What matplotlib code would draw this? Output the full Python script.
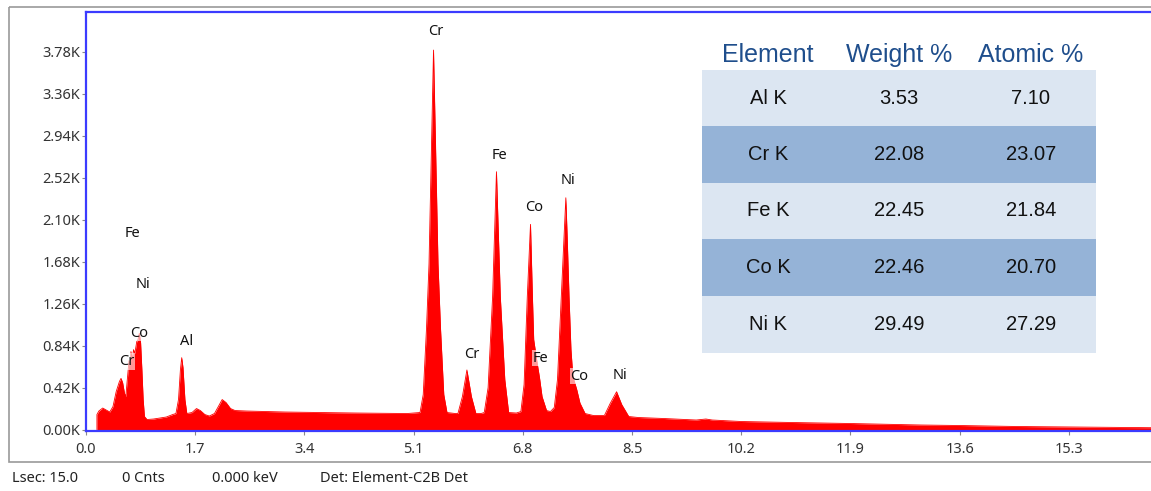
import matplotlib
matplotlib.use("Agg")
import matplotlib.pyplot as plt
from matplotlib.patches import Rectangle

# spectrum outline (keV, counts)
energy_kev = [0.17, 0.17, 0.20, 0.26, 0.30, 0.37, 0.42, 0.47, 0.52, 0.545, 0.57, 0.60, 0.62,
              0.64, 0.67, 0.69, 0.70, 0.72, 0.74, 0.76, 0.79, 0.81, 0.83, 0.85, 0.87, 0.89,
              0.91, 0.95, 1.05, 1.15, 1.25, 1.35, 1.40, 1.44, 1.47, 1.49, 1.51, 1.54, 1.57,
              1.65, 1.72, 1.78, 1.85, 1.92, 2.00, 2.06, 2.12, 2.18, 2.25, 2.32, 2.50, 2.80,
              3.10, 3.40, 3.80, 4.20, 4.60, 5.00, 5.20, 5.25, 5.30, 5.34, 5.38, 5.41, 5.44,
              5.48, 5.52, 5.57, 5.62, 5.75, 5.79, 5.86, 5.93, 6.00, 6.07, 6.15, 6.20, 6.26,
              6.33, 6.36, 6.39, 6.42, 6.45, 6.52, 6.58, 6.70, 6.77, 6.82, 6.87, 6.92, 6.95,
              6.97, 7.02, 7.06, 7.10, 7.17, 7.23, 7.29, 7.34, 7.40, 7.44, 7.47, 7.49, 7.52,
              7.55, 7.58, 7.64, 7.69, 7.77, 7.90, 8.07, 8.16, 8.26, 8.34, 8.45, 8.60, 9.00,
              9.50, 9.65, 9.75, 10.2, 11.0, 11.9, 13.0, 13.6, 14.5, 15.3, 16.0, 16.6, 16.6]
counts = [0, 150, 185, 215, 200, 175, 230, 380, 480, 512, 470, 360, 330,
          480, 690, 640, 780, 700, 800, 760, 880, 900, 963, 870, 600, 300,
          130, 100, 105, 115, 125, 150, 160, 300, 600, 719, 620, 300, 160,
          170, 210, 190, 150, 135, 160, 230, 300, 270, 210, 190, 185, 180,
          175, 172, 168, 165, 162, 160, 170, 350, 1000, 1658, 2900, 3799, 2900,
          1658, 1000, 350, 170, 160, 160, 330, 596, 330, 160, 160, 170, 420,
          1330, 1950, 2581, 1950, 1330, 500, 170, 165, 180, 450, 1330, 2054, 1330,
          900, 680, 520, 330, 190, 180, 220, 500, 1330, 1900, 2320, 1950, 1330,
          800, 530, 400, 265, 160, 140, 140, 260, 378, 250, 130, 120, 110,
          95, 105, 95, 80, 70, 60, 45, 40, 30, 25, 20, 18, 0]

x_ticks = [0.0, 1.7, 3.4, 5.1, 6.8, 8.5, 10.2, 11.9, 13.6, 15.3]
y_ticks = [0, 420, 840, 1260, 1680, 2100, 2520, 2940, 3360, 3780]

# peak labels (text, keV, counts)
peak_labels = [("Cr", 5.44, 3980), ("Fe", 6.43, 2744), ("Co", 6.97, 2221), ("Ni", 7.51, 2492),
               ("Cr", 6.01, 754), ("Fe", 7.08, 714), ("Co", 7.68, 533), ("Ni", 8.31, 543),
               ("Al", 1.57, 884), ("Co", 0.83, 965), ("Cr", 0.63, 683), ("Fe", 0.73, 1960),
               ("Ni", 0.89, 1447)]

elements = ["Al K", "Cr K", "Fe K", "Co K", "Ni K"]
weight_pct = ["3.53", "22.08", "22.45", "22.46", "29.49"]
atomic_pct = ["7.10", "23.07", "21.84", "20.70", "27.29"]

status_text = [("Lsec: 15.0", 12), ("0 Cnts", 122), ("0.000 keV", 212), ("Det: Element-C2B Det", 320)]

W, H = 1151, 491
fig = plt.figure(figsize=(W / 100, H / 100), dpi=100)
font = "Noto Sans"
blue = "#3b3bff"

ax = fig.add_axes([86 / W, (H - 431) / H, (W - 86) / W, (431 - 12) / H])
ax.fill_between(energy_kev, counts, color="#ff0000", lw=0)
ax.plot(energy_kev, counts, color="#ff0000", lw=0.6)
ax.set_xlim(0, 16.58)
ax.set_ylim(-15, 4180)
ax.set_xticks(x_ticks)
ax.set_xticklabels([f"{v:.1f}" for v in x_ticks], fontfamily=font, fontsize=10.5, color="#333333")
ax.set_yticks(y_ticks)
ax.set_yticklabels([f"{v / 1000:.2f}K" for v in y_ticks], fontfamily=font, fontsize=10.5, color="#333333")
ax.tick_params(length=3, width=0.8, color="#888888")
ax.tick_params(axis="x", pad=5)
ax.tick_params(axis="y", pad=1)
for side in ["left", "bottom", "top"]:
    ax.spines[side].set_color(blue)
    ax.spines[side].set_linewidth(1.6)
ax.spines["right"].set_visible(False)

for txt, e, c in peak_labels:
    ax.text(e, c, txt, ha="center", va="center", fontsize=10.5, fontfamily=font, color="#111111",
            bbox=dict(facecolor="white", alpha=0.6, edgecolor="none", pad=0.5))

# overlay in pixel coordinates for the frame, the table and the status line
ov = fig.add_axes([0, 0, 1, 1], zorder=5)
ov.set_xlim(0, W)
ov.set_ylim(H, 0)
ov.axis("off")
ov.patch.set_alpha(0)

ov.add_patch(Rectangle((9, 7), W, 455, fill=False, edgecolor="#999999", lw=1.2))

row_top = [70, 126, 182.7, 239.3, 296]
row_h = 56.5
col_x = [768, 899, 1031]
for i, (el, w, a) in enumerate(zip(elements, weight_pct, atomic_pct)):
    shade = "#dce6f2" if i % 2 == 0 else "#95b3d7"
    ov.add_patch(Rectangle((702, row_top[i]), 394, row_h, facecolor=shade, edgecolor="none"))
    yc = row_top[i] + row_h / 2
    for x, s in zip(col_x, [el, w, a]):
        ov.text(x, yc, s, ha="center", va="center", fontsize=14.5,
                fontfamily="Liberation Sans", color="#111111")

for x, s in zip(col_x, ["Element", "Weight %", "Atomic %"]):
    ov.text(x, 55, s, ha="center", va="center", fontsize=18,
            fontfamily="Liberation Sans", color="#1f4e8c")

for s, x in status_text:
    ov.text(x, 479, s, ha="left", va="center", fontsize=10.5, fontfamily=font, color="#222222")

fig.savefig("out.png", dpi=100)
